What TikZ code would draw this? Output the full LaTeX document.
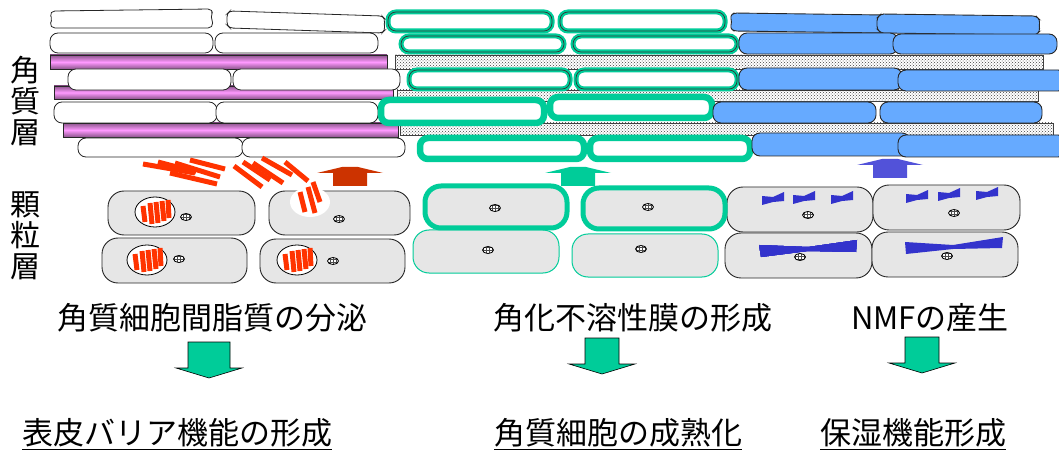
\documentclass[tikz,border=0pt]{standalone}
\usepackage{fontspec}
\setmainfont{Noto Sans CJK JP}
\usetikzlibrary{patterns}

\definecolor{kgreen}{HTML}{00CC99}
\definecolor{kblue}{HTML}{66AAFF}
\definecolor{kdblue}{HTML}{3333CC}
\definecolor{karrblue}{HTML}{5252D9}
\definecolor{kred}{HTML}{FF3300}
\definecolor{kdred}{HTML}{CC3300}
\definecolor{kpink}{HTML}{FF99FF}
\definecolor{kgray}{HTML}{E6E6E6}

\tikzset{
	whitecell/.style={draw=black!85, fill=white, rounded corners=8pt, line width=0.8pt},
	greencell/.style={draw=kgreen, fill=white, rounded corners=8pt, line width=5pt},
	greenlined/.style={greencell, postaction={draw=black!80, line width=0.7pt}},
	bluecell/.style={draw=black!85, fill=kblue, rounded corners=8pt, line width=0.9pt},
	lipidbar/.style={draw=black!85, line width=0.8pt, top color=kpink!55!black, bottom color=kpink!55!black, middle color=kpink},
	stipple/.style={draw=black!75, line width=0.5pt, preaction={fill=white}, pattern=crosshatch dots, pattern color=black!75},
	granule/.style={draw=black!85, fill=kgray, rounded corners=16pt, line width=0.9pt},
	nucleus/.style={draw=black, line width=0.8pt, preaction={fill=white}, pattern=grid, pattern color=black!70},
	layerlabel/.style={font=\fontsize{30}{31}\selectfont, align=center, inner sep=0pt},
	steplabel/.style={font=\fontsize{31}{31}\selectfont, inner sep=0pt}
}

% bundle of lipid lamellae inside a granule
\newcommand{\lamellae}[2]{%
	\begin{scope}[shift={(#1,#2)}]
		\foreach \xa/\ya/\xb/\yb in {-12/-6/-10/10, -5/-9/-3/12, 1/-10/3/11, 7/-11/9/9, 13/-12/14/6}
			\draw[kred, line width=5pt] (\xa,\ya) -- (\xb,\yb);
	\end{scope}}

\newcommand{\nmfblob}[2]{\fill[kdblue, shift={(#1,#2)}] (-11,-3) -- (0,-2) -- (11,-7) -- (11,2) -- (0,3) -- (-11,6) -- cycle;}

\newcommand{\uparrowblock}[3]{\fill[#1, shift={(#2,#3)}] (-33,6) -- (-8,0) -- (8,0) -- (33,6) -- (17,6) -- (17,19) -- (-17,19) -- (-17,6) -- cycle;}

\newcommand{\downarrowblock}[3]{\filldraw[fill=kgreen, draw=black, line width=0.6pt, shift={(#1,#2)}] (-#3,0) -- (#3,0) -- (#3,26) -- (33,26) -- (0,36) -- (-33,26) -- (-#3,26) -- cycle;}

\begin{document}
\begin{tikzpicture}[x=1pt, y=-1pt]
	\useasboundingbox (0,0) rectangle (1059,454);

	% intercellular layers
	\draw[stipple] (395,55) rectangle (1043,69);
	\draw[stipple] (397,90) rectangle (1038,101);
	\draw[stipple] (400,123) rectangle (1053,135);
	\draw[lipidbar] (50,55) rectangle (387,69);
	\draw[lipidbar] (54,86) rectangle (393,99);
	\draw[lipidbar] (63,123) rectangle (398,137);

	% stratum corneum, left
	\draw[whitecell, rounded corners=2pt] (50,14) -- (53,11) -- (210,9) -- (213,12) -- (211,15) -- (213,25) -- (210,28) -- (53,28) -- (50,25) -- (52,19) -- cycle;
	\draw[whitecell, rounded corners=3pt] (227,14) -- (230,11) -- (382,16) -- (385,19) -- (384,24) -- (385,30) -- (382,33) -- (230,28) -- (227,25) -- cycle;
	\foreach \xa/\ya/\xb/\yb in {50/33/213/53, 215/33/378/53, 68/69/231/90, 233/69/400/90,
			54/102/217/123, 216/102/378/123, 78/138/243/157, 242/138/405/157}
		\draw[whitecell] (\xa,\ya) rectangle (\xb,\yb);

	% stratum corneum, middle
	\foreach \xa/\ya/\xb/\yb in {388/12/552/31, 560/12/725/31, 401/36/564/52, 573/36/737/52,
			409/70/570/89, 576/70/737/89}
		\draw[greenlined] (\xa,\ya) rectangle (\xb,\yb);
	\foreach \xa/\ya/\xb/\yb in {381/100/544/123, 550/97/712/118, 420/138/584/159, 590/138/750/159}
		\draw[greencell, line width=6.5pt] (\xa,\ya) rectangle (\xb,\yb);

	% stratum corneum, right
	\draw[bluecell, rounded corners=3pt] (730,16) -- (734,13) -- (884,15) -- (887,19) -- (886,24) -- (887,30) -- (884,33) -- (734,31) -- (730,28) -- (732,22) -- cycle;
	\draw[bluecell, rounded corners=3pt] (877,18) -- (881,14) -- (1036,16) -- (1040,20) -- (1039,26) -- (1040,31) -- (1036,35) -- (881,33) -- (877,29) -- cycle;
	\foreach \xa/\ya/\xb/\yb in {739/33/898/54, 893/34/1057/54, 739/68/902/90, 898/70/1066/91,
			713/102/876/123, 880/102/1042/123, 752/133/910/156, 898/135/1066/157}
		\draw[bluecell] (\xa,\ya) rectangle (\xb,\yb);

	% granular layer
	\foreach \xa/\ya/\xb/\yb in {108/191/255/235, 269/191/410/235, 102/238/247/283, 260/239/405/283,
			727/187/873/232, 873/185/1020/230, 725/233/872/278, 872/232/1018/277}
		\draw[granule] (\xa,\ya) rectangle (\xb,\yb);
	\draw[granule, draw=kgreen, line width=1pt] (413,230) rectangle (559,273);
	\draw[granule, draw=kgreen, line width=1pt] (572,234) rectangle (718,277);
	\draw[granule, draw=kgreen, line width=5pt] (425,186) rectangle (567,228);
	\draw[granule, draw=kgreen, line width=5pt] (583,188) rectangle (725,229);

	\foreach \nx/\ny in {186/217, 339/219, 179/259, 333/261, 495/208, 648/207,
			488/250, 641/249, 808/215, 954/213, 800/257, 947/256}
		\draw[nucleus] (\nx,\ny) ellipse [x radius=5.5, y radius=3.5];

	% lamellar granules and secreted lipid
	\foreach \gx/\gy in {155/212, 147/260, 297/260} {
		\draw[line width=0.8pt, fill=white] (\gx,\gy) ellipse [x radius=20, y radius=15];
		\lamellae{\gx}{\gy}
	}
	\fill[white] (310,202) ellipse [x radius=20, y radius=15];
	\foreach \xa/\ya/\xb/\yb in {300/192/305/212, 308/187/315/213, 313/182/320/202,
			143/164/195/173, 158/162/196/172, 170/173/217/184, 175/163/220/177, 190/160/225/169,
			234/166/262/187, 243/162/270/180, 253/163/283/183, 262/158/292/175, 285/162/308/181}
		\draw[kred, line width=5pt] (\xa,\ya) -- (\xb,\yb);

	% NMF precursors
	\foreach \bx/\by in {773/199, 804/198, 842/198, 917/197, 949/195, 987/194}
		\nmfblob{\bx}{\by}
	\fill[kdblue] (759,245) -- (808,247) -- (857,240) -- (856,252) -- (808,251) -- (761,257) -- cycle;
	\fill[kdblue] (905,242) -- (953,245) -- (1003,237) -- (1002,248) -- (953,249) -- (906,254) -- cycle;

	\uparrowblock{kdred}{350}{167}
	\uparrowblock{kgreen}{578}{167}
	\uparrowblock{karrblue}{890}{159}

	% labels
	\node[layerlabel] (corneum) at (25,101) {角\\質\\層};
	\node[layerlabel] (granular) at (25,236) {顆\\粒\\層};

	\node[steplabel] (lipid) at (212,318) {角質細胞間脂質の分泌};
	\node[steplabel] (envelope) at (633,318) {角化不溶性膜の形成};
	\node[steplabel] (nmf) at (930,318) {NMFの産生};

	\downarrowblock{209}{342}{21}
	\downarrowblock{602}{338}{17}
	\downarrowblock{922}{337}{17}

	\node[steplabel] (barrier) at (177,434) {\underline{表皮バリア機能の形成}};
	\node[steplabel] (mature) at (618,434) {\underline{角質細胞の成熟化}};
	\node[steplabel] (moisture) at (913,434) {\underline{保湿機能形成}};
\end{tikzpicture}
\end{document}
